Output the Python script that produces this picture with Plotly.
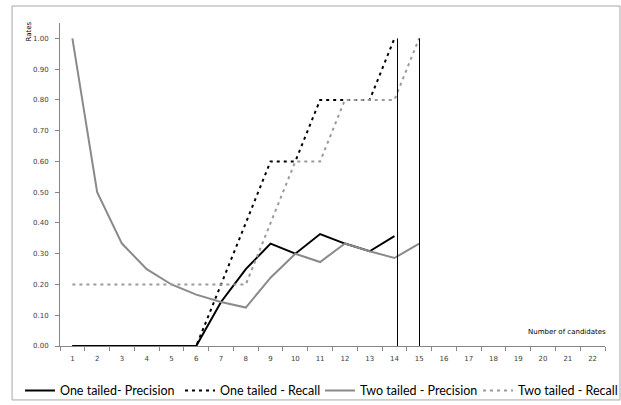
import plotly.graph_objects as go

candidates = [str(i) for i in range(1, 23)]
one_prec_x = [str(i) for i in range(1, 15)]
one_prec = [0, 0, 0, 0, 0, 0, 0.143, 0.25, 0.333, 0.30, 0.364, 0.333, 0.308, 0.357]
one_rec_x = [str(i) for i in range(1, 15)]
one_rec = [0, 0, 0, 0, 0, 0, 0.2, 0.4, 0.6, 0.6, 0.8, 0.8, 0.8, 1.0]
two_prec_x = [str(i) for i in range(1, 16)]
two_prec = [1.0, 0.5, 0.333, 0.25, 0.2, 0.167, 0.143, 0.125, 0.222, 0.30, 0.273, 0.333, 0.308, 0.286, 0.333]
two_rec_x = [str(i) for i in range(1, 16)]
two_rec = [0.2, 0.2, 0.2, 0.2, 0.2, 0.2, 0.2, 0.2, 0.4, 0.6, 0.6, 0.8, 0.8, 0.8, 1.0]
y_ticks = [0, 0.1, 0.2, 0.3, 0.4, 0.5, 0.6, 0.7, 0.8, 0.9, 1.0]
cutoffs = [13.124, 14.012]  # category index positions of vertical cut-off lines

fig = go.Figure()
fig.add_trace(go.Scatter(x=one_prec_x, y=one_prec, mode="lines", name="One tailed- Precision",
                         line=dict(color="#000000", width=2), legend="legend"))
fig.add_trace(go.Scatter(x=one_rec_x, y=one_rec, mode="lines", name="One tailed - Recall",
                         line=dict(color="#000000", width=2, dash="3px,4px"), legend="legend2"))
fig.add_trace(go.Scatter(x=two_prec_x, y=two_prec, mode="lines", name="Two tailed - Precision",
                         line=dict(color="#8a8a8a", width=2), legend="legend3"))
fig.add_trace(go.Scatter(x=two_rec_x, y=two_rec, mode="lines", name="Two tailed - Recall",
                         line=dict(color="#9a9a9a", width=2, dash="3px,4px"), legend="legend4"))

for c in cutoffs:
    fig.add_shape(type="line", xref="x", yref="y", x0=c, x1=c, y0=0, y1=1.0,
                  line=dict(color="#000000", width=1))

fig.add_shape(type="rect", xref="paper", yref="paper", x0=-0.088, x1=1.0275, y0=-0.167, y1=1.0526,
              line=dict(color="#a6a6a6", width=1))


def leg(xpos):
    return dict(orientation="h", xref="container", yref="container", x=xpos, xanchor="left",
                y=0.035, yanchor="middle", bgcolor="rgba(0,0,0,0)",
                font=dict(family="Lato", size=12.5, color="#000000"), itemwidth=30)


fig.update_layout(
    width=621, height=405,
    margin=dict(l=60, r=16, t=23, b=59, autoexpand=False),
    paper_bgcolor="white", plot_bgcolor="white",
    font=dict(family="DejaVu Sans", size=7, color="#404040"),
    showlegend=True,
    legend=leg(0.0322), legend2=leg(0.2899), legend3=leg(0.5153), legend4=leg(0.7697),
    xaxis=dict(type="category", categoryorder="array", categoryarray=candidates,
               range=[-0.5, 21.5], tickson="boundaries", ticks="outside", ticklen=4,
               ticklabelstandoff=6,
               tickcolor="#868686", showline=True, linecolor="#868686", linewidth=1,
               showgrid=False, zeroline=False, tickfont=dict(size=7, color="#404040")),
    yaxis=dict(range=[0, 1.05], tickvals=y_ticks, tickformat=".2f", ticks="outside", ticklen=4,
               ticklabelstandoff=5,
               tickcolor="#868686", showline=True, linecolor="#868686", linewidth=1,
               showgrid=False, zeroline=False, tickfont=dict(size=7, color="#404040")),
    annotations=[
        dict(text="Rates", xref="paper", yref="paper", x=-0.056, y=0.975, xanchor="center", yanchor="middle",
             textangle=-90, showarrow=False, font=dict(size=7, color="#000000")),
        dict(text="Number of candidates", xref="paper", yref="y", x=1.005, y=0.047, xanchor="right",
             yanchor="middle", showarrow=False, font=dict(size=7, color="#000000")),
    ],
)

fig.write_html("out.html", config={"displayModeBar": False},
               post_script="document.body.style.margin='0';document.body.style.overflow='hidden';")
